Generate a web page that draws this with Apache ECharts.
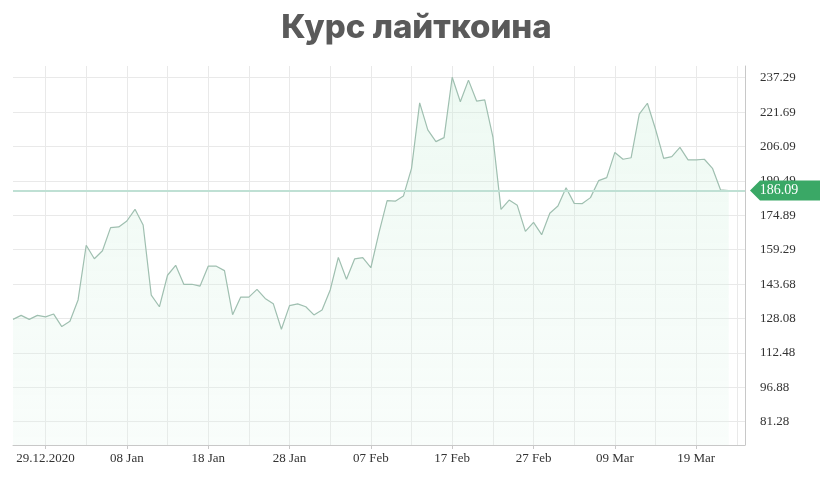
<!DOCTYPE html>
<html>
<head>
<meta charset="utf-8">
<title>Курс лайткоина</title>
<script src="https://cdn.jsdelivr.net/npm/echarts@6/dist/echarts.min.js"></script>
<style>
  html, body { margin: 0; padding: 0; background: #fff; }
  #chart { width: 833px; height: 481px; }
</style>
</head>
<body>
<div id="chart"></div>
<script>
// даты (по дням), последние две без значений
var dates = [
  '2020-12-25','2020-12-26','2020-12-27','2020-12-28','2020-12-29','2020-12-30','2020-12-31',
  '2021-01-01','2021-01-02','2021-01-03','2021-01-04','2021-01-05','2021-01-06','2021-01-07',
  '2021-01-08','2021-01-09','2021-01-10','2021-01-11','2021-01-12','2021-01-13','2021-01-14',
  '2021-01-15','2021-01-16','2021-01-17','2021-01-18','2021-01-19','2021-01-20','2021-01-21',
  '2021-01-22','2021-01-23','2021-01-24','2021-01-25','2021-01-26','2021-01-27','2021-01-28',
  '2021-01-29','2021-01-30','2021-01-31',
  '2021-02-01','2021-02-02','2021-02-03','2021-02-04','2021-02-05','2021-02-06','2021-02-07',
  '2021-02-08','2021-02-09','2021-02-10','2021-02-11','2021-02-12','2021-02-13','2021-02-14',
  '2021-02-15','2021-02-16','2021-02-17','2021-02-18','2021-02-19','2021-02-20','2021-02-21',
  '2021-02-22','2021-02-23','2021-02-24','2021-02-25','2021-02-26','2021-02-27','2021-02-28',
  '2021-03-01','2021-03-02','2021-03-03','2021-03-04','2021-03-05','2021-03-06','2021-03-07',
  '2021-03-08','2021-03-09','2021-03-10','2021-03-11','2021-03-12','2021-03-13','2021-03-14',
  '2021-03-15','2021-03-16','2021-03-17','2021-03-18','2021-03-19','2021-03-20','2021-03-21',
  '2021-03-22','2021-03-23','2021-03-24','2021-03-25'
];

var prices = [
  127.7, 129.5, 127.7, 129.5, 128.8, 130.1, 124.4, 126.8, 136.5, 161.3,
  155.2, 158.8, 169.3, 169.6, 172.3, 177.6, 170.5, 138.7, 133.4, 147.7,
  152.2, 143.6, 143.6, 142.8, 151.8, 151.8, 149.8, 129.8, 137.8, 137.8,
  141.3, 137.2, 134.8, 123.2, 133.9, 134.7, 133.4, 129.7, 131.9, 141.0,
  155.8, 145.9, 155.1, 155.7, 151.1, 167.0, 181.5, 181.3, 183.6, 196.2,
  225.9, 213.6, 208.3, 210.1, 237.5, 226.4, 236.2, 226.7, 227.2, 210.5,
  177.6, 181.8, 179.4, 167.6, 171.7, 166.1, 175.8, 179.1, 187.4, 180.3,
  180.2, 182.9, 190.6, 192.0, 203.4, 200.3, 201.0, 220.8, 225.7, 213.9,
  200.7, 201.5, 205.7, 200.0, 200.0, 200.3, 196.2, 186.4, 186.09
];

var yTickLabels = ['81.28','96.88','112.48','128.08','143.68','159.29','174.89','190.49','206.09','221.69','237.29'];
var lastPrice = 186.09;

var months = ['Jan','Feb','Mar','Apr','May','Jun','Jul','Aug','Sep','Oct','Nov','Dec'];
var firstLabelIdx = 4;   // 29.12.2020

function fmtDate(s, idx){
	var p = s.split('-');
	if (idx === firstLabelIdx) return p[2] + '.' + p[1] + '.' + p[0];
	return p[2] + ' ' + months[parseInt(p[1], 10) - 1];
}

var myChart = echarts.init(document.getElementById('chart'));
var option = {
    animation: false,
    textStyle: { fontFamily: 'Liberation Serif' },
    title: {
        text: 'Курс лайткоина',
        left: 'center',
        top: 7,
        textStyle: {
            fontFamily: 'Inter',
            fontWeight: 800,
            fontSize: 33,
            color: '#5a5a5a'
        }
    },
    grid: {
        left: 13,
        right: 88,
        top: 66,
        bottom: 36
    },
    xAxis: {
        type: 'category',
        boundaryGap: false,
        data: dates,
        axisLine: { lineStyle: { color: '#c8c8c8' } },
        axisTick: {
            length: 4,
            lineStyle: { color: '#c8c8c8' },
            interval: function(i){ return i >= firstLabelIdx && (i - firstLabelIdx) % 10 === 0; }
        },
        axisLabel: {
            color: '#333',
            fontFamily: 'Liberation Serif',
            fontSize: 13,
            margin: 7,
            interval: function(i){ return i >= firstLabelIdx && (i - firstLabelIdx) % 10 === 0; },
            formatter: function(v, i){ return fmtDate(v, i); }
        },
        splitLine: {
            show: true,
            interval: function(i){ return i >= firstLabelIdx && (i - firstLabelIdx) % 5 === 0; },
            lineStyle: { color: '#e9e9e9' }
        }
    },
    yAxis: {
        type: 'value',
        position: 'right',
        min: 70.71,
        max: 242.6,
        axisLine: { show: true, lineStyle: { color: '#c8c8c8' } },
        axisTick: { show: false, customValues: yTickLabels.map(Number) },
        axisLabel: {
            color: '#333',
            fontFamily: 'Liberation Serif',
            fontSize: 13,
            margin: 15,
            customValues: yTickLabels.map(Number),
            formatter: function(v){ return v.toFixed(2); }
        },
        splitLine: { lineStyle: { color: '#e9e9e9' } }
    },
    series: [
        {
            type: 'line',
            data: prices,
            clip: false,
            symbol: 'none',
            lineStyle: { color: '#9fbfb0', width: 1.2 },
            areaStyle: {
                color: new echarts.graphic.LinearGradient(0, 0, 0, 1, [
                    { offset: 0, color: 'rgba(200,238,215,0.45)' },
                    { offset: 1, color: 'rgba(225,245,235,0.3)' }
                ])
            },
            markLine: {
                silent: true,
                symbol: 'none',
                label: { show: false },
                lineStyle: { color: '#bfe0d4', width: 2, type: 'solid' },
                data: [{ yAxis: lastPrice }]
            },
            markPoint: {
                silent: true,
                symbol: 'path://M0,10 L10,0 L70,0 L70,20 L10,20 Z',
                symbolSize: [70, 20],
                symbolKeepAspect: false,
                symbolOffset: [40, 0],
                itemStyle: { color: '#3aa866' },
                label: {
                    show: true,
                    position: 'inside',
                    offset: [-6, 0],
                    color: '#fff',
                    fontFamily: 'Liberation Serif',
                    fontSize: 14,
                    formatter: lastPrice.toFixed(2)
                },
                data: [{ coord: [dates[dates.length - 1], lastPrice] }]
            }
        }
    ]
};
myChart.setOption(option);
</script>
</body>
</html>
